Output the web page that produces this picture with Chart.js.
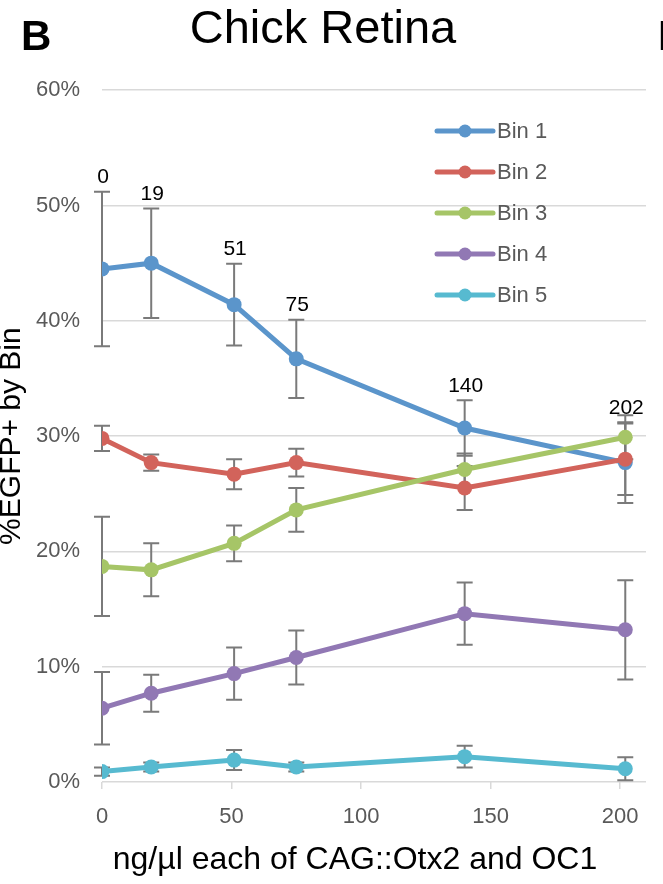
<!DOCTYPE html>
<html>
<head>
<meta charset="utf-8">
<script src="https://cdn.jsdelivr.net/npm/chart.js@4"></script>
<style>
  html, body { margin: 0; padding: 0; background: #ffffff; }
  #wrap { position: relative; width: 663px; height: 884px; }
</style>
</head>
<body>
<div id="wrap"><canvas id="c" width="663" height="884"></canvas></div>
<script>
// ---- data ----
const doses = [0, 19, 51, 75, 140, 202];
const seriesNames = ["Bin 1", "Bin 2", "Bin 3", "Bin 4", "Bin 5"];
const bin1 = [44.5, 45.0, 41.4, 36.7, 30.7, 27.7];
const bin1Err = [6.7, 4.75, 3.55, 3.4, 2.4, 3.5];
const bin2 = [29.8, 27.7, 26.7, 27.7, 25.5, 28.0];
const bin2Err = [1.1, 0.7, 1.3, 1.2, 1.9, 3.1];
const bin3 = [18.7, 18.4, 20.7, 23.6, 27.1, 29.9];
const bin3Err = [4.3, 2.3, 1.55, 1.9, 1.4, 1.9];
const bin4 = [6.4, 7.7, 9.4, 10.8, 14.6, 13.2];
const bin4Err = [3.15, 1.6, 2.27, 2.35, 2.7, 4.3];
const bin5 = [0.9, 1.3, 1.9, 1.3, 2.2, 1.15];
const bin5Err = [0.35, 0.4, 0.87, 0.4, 0.95, 1.0];
const yTicks = [0, 10, 20, 30, 40, 50, 60];
const xTicks = [0, 50, 100, 150, 200];
const titleText = "Chick Retina";
const panelLetter = "B";
const nextPanelLetter = "D";
const xTitle = "ng/\u00b5l each of CAG::Otx2 and OC1";
const yTitle = "%EGFP+ by Bin";

const colors = ["#5B95CB", "#D2635B", "#A6C567", "#9178B4", "#57BAD0"];
const values = [bin1, bin2, bin3, bin4, bin5];
const errors = [bin1Err, bin2Err, bin3Err, bin4Err, bin5Err];
const FONT = "'Liberation Sans', Arial, sans-serif";

const datasets = seriesNames.map((name, i) => ({
  label: name,
  data: doses.map((d, j) => ({ x: d, y: values[i][j] })),
  borderColor: colors[i],
  backgroundColor: colors[i],
  pointBackgroundColor: colors[i],
  pointBorderColor: colors[i],
  borderWidth: 5,
  pointRadius: 7.5,
  pointBorderWidth: 0,
  tension: 0,
  order: seriesNames.length - i
}));

const errorBarPlugin = {
  id: 'errorBars',
  beforeDatasetsDraw(chart) {
    const ctx = chart.ctx, xs = chart.scales.x, ys = chart.scales.y;
    ctx.save();
    ctx.strokeStyle = '#7a7a7a';
    ctx.lineWidth = 2;
    values.forEach((vals, i) => {
      vals.forEach((v, j) => {
        const px = xs.getPixelForValue(doses[j]);
        const top = ys.getPixelForValue(v + errors[i][j]);
        const bot = ys.getPixelForValue(v - errors[i][j]);
        ctx.beginPath();
        ctx.moveTo(px, top); ctx.lineTo(px, bot);
        ctx.moveTo(px - 8, top); ctx.lineTo(px + 8, top);
        ctx.moveTo(px - 8, bot); ctx.lineTo(px + 8, bot);
        ctx.stroke();
      });
    });
    ctx.restore();
  }
};

const annotPlugin = {
  id: 'annotations',
  afterDatasetsDraw(chart) {
    const ctx = chart.ctx, xs = chart.scales.x, ys = chart.scales.y;
    ctx.save();
    // dose labels above Bin 1 error bars
    ctx.fillStyle = '#000000';
    ctx.font = '21px ' + FONT;
    ctx.textAlign = 'center';
    ctx.textBaseline = 'bottom';
    doses.forEach((d, j) => {
      const px = xs.getPixelForValue(d);
      const top = ys.getPixelForValue(bin1[j] + bin1Err[j]);
      ctx.fillText(String(d), px + 1, top - 4);
    });
    // legend
    const lx0 = 437, lx1 = 493, ly0 = 131, lstep = 41;
    ctx.font = '22px ' + FONT;
    ctx.textAlign = 'left';
    ctx.textBaseline = 'middle';
    seriesNames.forEach((name, i) => {
      const y = ly0 + i * lstep;
      ctx.strokeStyle = colors[i];
      ctx.lineWidth = 5;
      ctx.lineCap = 'round';
      ctx.beginPath(); ctx.moveTo(lx0, y); ctx.lineTo(lx1, y); ctx.stroke();
      ctx.fillStyle = colors[i];
      ctx.beginPath(); ctx.arc((lx0 + lx1) / 2, y, 6.5, 0, Math.PI * 2); ctx.fill();
      ctx.fillStyle = '#595959';
      ctx.fillText(name, lx1 + 4, y + 1);
    });
    ctx.restore();
  },
  afterDraw(chart) {
    const ctx = chart.ctx;
    ctx.save();
    ctx.fillStyle = '#000000';
    ctx.font = 'bold 42px ' + FONT;
    ctx.textAlign = 'left';
    ctx.textBaseline = 'alphabetic';
    ctx.fillText(panelLetter, 21, 50);
    ctx.fillText(nextPanelLetter, 658, 50);
    // x-axis title (offset left of the plot centre, as in the figure)
    ctx.font = '32px ' + FONT;
    ctx.textAlign = 'center';
    ctx.textBaseline = 'middle';
    ctx.fillText(xTitle, 355, 860);
    ctx.restore();
  }
};

new Chart(document.getElementById('c'), {
  type: 'line',
  data: { datasets },
  plugins: [errorBarPlugin, annotPlugin],
  options: {
    responsive: false,
    animation: false,
    layout: { padding: { left: 0, right: 17, top: 0, bottom: 0 } },
    plugins: {
      legend: { display: false },
      tooltip: { enabled: false },
      title: {
        display: true,
        text: titleText,
        color: '#000000',
        font: { family: FONT, size: 47, weight: 'normal' },
        padding: { top: 2, bottom: 31.8 }
      }
    },
    scales: {
      x: {
        type: 'linear',
        min: 0,
        max: 210,
        afterBuildTicks(scale) { scale.ticks = xTicks.map(v => ({ value: v })); },
        afterFit(scale) { scale.height = 102; },
        ticks: {
          color: '#595959',
          font: { family: FONT, size: 22 },
          padding: 15,
          maxRotation: 0
        },
        grid: {
          drawOnChartArea: false,
          drawTicks: true,
          tickLength: 7,
          color: '#d9d9d9',
          lineWidth: 1.5
        },
        border: { display: false },
        title: { display: false, text: xTitle }
      },
      y: {
        min: 0,
        max: 60,
        afterBuildTicks(scale) { scale.ticks = yTicks.map(v => ({ value: v })); },
        afterFit(scale) { scale.width = 102; },
        ticks: {
          color: '#595959',
          font: { family: FONT, size: 22 },
          padding: 22,
          callback: v => v + '%'
        },
        grid: {
          drawTicks: false,
          color: '#d9d9d9',
          lineWidth: 1.5
        },
        border: { display: false },
        title: {
          display: true,
          text: yTitle,
          color: '#000000',
          font: { family: FONT, size: 30, lineHeight: 0.76 },
          padding: 0
        }
      }
    }
  }
});
</script>
</body>
</html>
